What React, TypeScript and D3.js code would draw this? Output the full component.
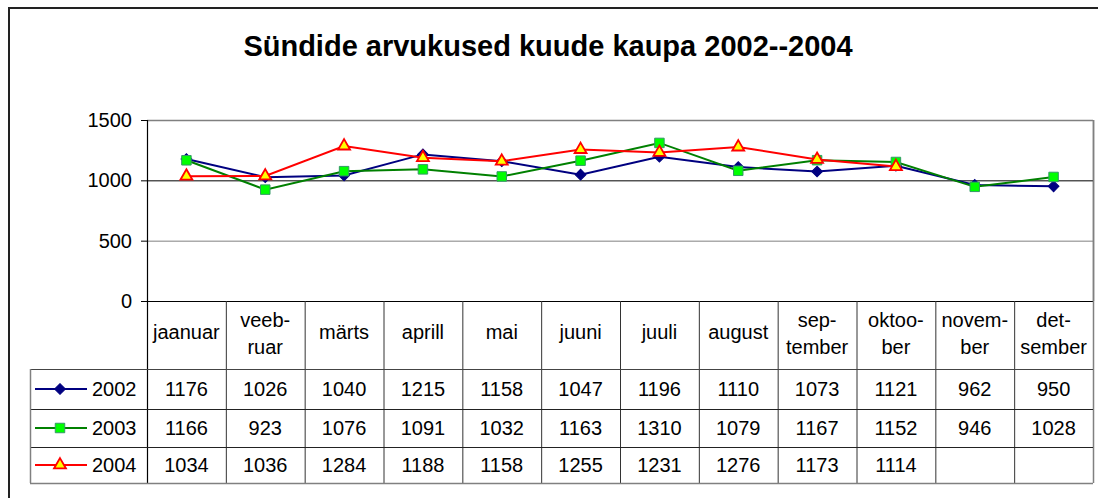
import React from "react";
import * as d3 from "d3";

const title = "Sündide arvukused kuude kaupa 2002--2004";
const months = ["jaanuar", "veebruar", "märts", "aprill", "mai", "juuni", "juuli", "august", "september", "oktoober", "november", "detsember"];
const monthLabels: string[][] = [
  ["jaanuar"], ["veeb-", "ruar"], ["märts"], ["aprill"], ["mai"], ["juuni"], ["juuli"], ["august"],
  ["sep-", "tember"], ["oktoo-", "ber"], ["novem-", "ber"], ["det-", "sember"],
];
const years = ["2002", "2003", "2004"];
const values2002: (number | null)[] = [1176, 1026, 1040, 1215, 1158, 1047, 1196, 1110, 1073, 1121, 962, 950];
const values2003: (number | null)[] = [1166, 923, 1076, 1091, 1032, 1163, 1310, 1079, 1167, 1152, 946, 1028];
const values2004: (number | null)[] = [1034, 1036, 1284, 1188, 1158, 1255, 1231, 1276, 1173, 1114, null, null];
const yTicks = [0, 500, 1000, 1500];

const seriesStyles = [
  { line: "#000080", fill: "#000080", stroke: "#000080", shape: "diamond" },
  { line: "#008000", fill: "#00FF00", stroke: "#339966", shape: "square" },
  { line: "#FF0000", fill: "#FFFF00", stroke: "#FF0000", shape: "triangle" },
];

const FONT = "'Liberation Sans', Arial, sans-serif";

function markerPath(shape: string): string {
  if (shape === "diamond") return d3.symbol(d3.symbolSquare, 58)() as string;
  if (shape === "square") return d3.symbol(d3.symbolSquare, 90)() as string;
  return d3.symbol(d3.symbolTriangle, 62)() as string;
}

export default function App() {
  const W = 1098, H = 498;
  const plotL = 147, plotR = 1093, plotT = 120, plotB = 301;
  const rowYs = [369, 409, 447, 483];
  const legendL = 30;
  const series = [values2002, values2003, values2004];

  const x = d3.scaleBand<string>().domain(months).range([plotL, plotR]).padding(0);
  const y = d3.scaleLinear().domain([0, 1500]).range([plotB, plotT]);
  const cx = (m: string) => (x(m) as number) + x.bandwidth() / 2;

  const lineGen = d3
    .line<number | null>()
    .defined((d) => d !== null)
    .x((_, i) => cx(months[i]))
    .y((d) => y(d as number));

  const bounds = months.map((m) => x(m) as number).concat([plotR]);

  return (
    <svg width={W} height={H} style={{ position: "absolute", left: 0, top: 0, background: "#fff" }} fontFamily={FONT}>
      <rect x={0} y={0} width={W} height={H} fill="#fff" />
      {/* outer chart border */}
      <rect x={9} y={8} width={W + 10} height={H + 10} fill="none" stroke="#222" strokeWidth={2} />
      <text x={548} y={56} textAnchor="middle" fontSize={29} fontWeight="bold" fill="#000">{title}</text>

      {/* plot area border */}
      <line x1={plotL} x2={plotR} y1={plotT + 0.5} y2={plotT + 0.5} stroke="#808080" strokeWidth={1.5} />
      <line x1={plotR + 0.5} x2={plotR + 0.5} y1={plotT} y2={plotB} stroke="#808080" strokeWidth={1.5} />
      {/* gridlines */}
      <line x1={plotL} x2={plotR} y1={y(1000) + 0.5} y2={y(1000) + 0.5} stroke="#000" strokeWidth={1} />
      <line x1={plotL} x2={plotR} y1={y(500) + 0.5} y2={y(500) + 0.5} stroke="#808080" strokeWidth={1} />

      {/* y axis */}
      <line x1={plotL + 0.5} x2={plotL + 0.5} y1={plotT} y2={rowYs[3]} stroke="#000" strokeWidth={1.2} />
      {yTicks.map((t) => (
        <g key={t}>
          <line x1={plotL - 6} x2={plotL} y1={y(t) + 0.5} y2={y(t) + 0.5} stroke="#000" strokeWidth={1} />
          <text x={132} y={y(t) + 7} textAnchor="end" fontSize={20} fill="#000">{t}</text>
        </g>
      ))}

      {/* table */}
      <line x1={plotL} x2={plotR} y1={plotB + 0.5} y2={plotB + 0.5} stroke="#000" strokeWidth={1.2} />
      {bounds.slice(1).map((bx, i) => (
        <line key={"v" + i} x1={bx + 0.5} x2={bx + 0.5} y1={i === bounds.length - 2 ? plotT : plotB} y2={rowYs[3]}
          stroke={i === bounds.length - 2 ? "#808080" : "#333"} strokeWidth={i === bounds.length - 2 ? 1.5 : 1} />
      ))}
      {rowYs.slice(0, 3).map((ry, i) => (
        <line key={"h" + i} x1={i === 0 ? legendL : legendL} x2={plotR} y1={ry + 0.5} y2={ry + 0.5} stroke={i === 0 ? "#444" : "#222"} strokeWidth={1} />
      ))}
      <line x1={legendL} x2={plotR} y1={rowYs[3] + 0.5} y2={rowYs[3] + 0.5} stroke="#808080" strokeWidth={1.5} />
      <line x1={legendL + 0.5} x2={legendL + 0.5} y1={rowYs[0]} y2={rowYs[3]} stroke="#808080" strokeWidth={1.5} />

      {/* category header */}
      {months.map((m, i) => {
        const lines = monthLabels[i];
        const baseYs = lines.length === 1 ? [339] : [327, 354];
        return (
          <text key={m} textAnchor="middle" fontSize={20} fill="#000">
            {lines.map((l, j) => (
              <tspan key={j} x={cx(m)} y={baseYs[j]}>{l}</tspan>
            ))}
          </text>
        );
      })}

      {/* data rows */}
      {series.map((vals, si) => {
        const top = rowYs[si], bot = rowYs[si + 1];
        const mid = (top + bot) / 2;
        const st = seriesStyles[si];
        return (
          <g key={"row" + si}>
            <line x1={35} x2={87} y1={mid} y2={mid} stroke={st.line} strokeWidth={2} />
            <path d={markerPath(st.shape)} transform={`translate(60,${mid})${st.shape === "diamond" ? " rotate(45)" : ""}`}
              fill={st.fill} stroke={st.stroke} strokeWidth={st.shape === "triangle" ? 1.8 : 1} />
            <text x={92} y={mid + 7} fontSize={20} fill="#000">{years[si]}</text>
            {vals.map((v, i) =>
              v === null ? null : (
                <text key={i} x={cx(months[i])} y={mid + 7} textAnchor="middle" fontSize={20} fill="#000">{v}</text>
              )
            )}
          </g>
        );
      })}

      {/* series lines and markers */}
      {series.map((vals, si) => {
        const st = seriesStyles[si];
        return (
          <g key={"s" + si}>
            <path d={lineGen(vals) as string} fill="none" stroke={st.line} strokeWidth={2} />
            {vals.map((v, i) =>
              v === null ? null : (
                <path key={i} d={markerPath(st.shape)}
                  transform={`translate(${cx(months[i])},${y(v)})${st.shape === "diamond" ? " rotate(45)" : ""}`}
                  fill={st.fill} stroke={st.stroke} strokeWidth={st.shape === "triangle" ? 1.8 : 1} />
              )
            )}
          </g>
        );
      })}
    </svg>
  );
}
